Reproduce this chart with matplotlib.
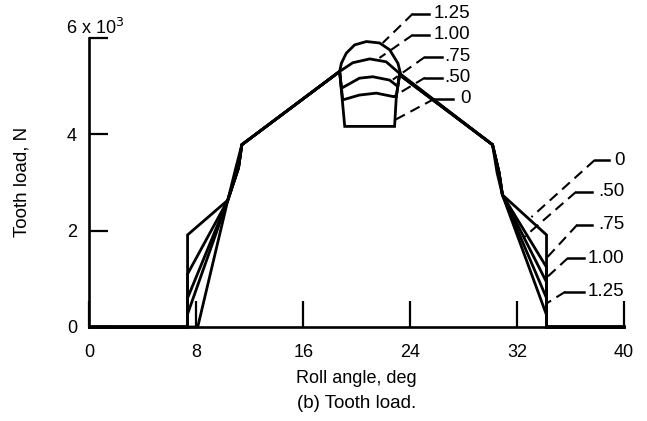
import matplotlib.pyplot as plt

plt.rcParams['font.family'] = ['Liberation Sans', 'DejaVu Sans']

# roll angle, deg / tooth load, 10^3 N
x_0 = [0, 7.34, 7.34, 10.35, 10.95, 11.4, 18.72, 19.1, 22.83, 22.96, 23.2,
       30.16, 30.5, 30.9, 34.2, 34.2, 40]
y_0 = [0, 0, 1.91, 2.63, 3.3, 3.78, 5.30, 4.16, 4.16, 4.78, 5.23,
       3.78, 3.2, 2.74, 1.91, 0, 0]

x_050 = [0, 7.34, 7.34, 10.35, 11.15, 11.4, 18.72, 18.95, 20.2, 21.46, 22.7, 22.96, 23.2,
         30.16, 30.65, 30.9, 34.2, 34.2, 40]
y_050 = [0, 0, 1.1, 2.63, 3.3, 3.78, 5.30, 4.71, 4.81, 4.85, 4.78, 4.78, 5.23,
         3.78, 3.2, 2.74, 1.24, 0, 0]

x_075 = [0, 7.34, 7.34, 10.35, 11.15, 11.4, 18.72, 18.85, 20.2, 21.2, 22.46, 23.06, 23.2,
         30.16, 30.65, 30.9, 34.2, 34.2, 40]
y_075 = [0, 0, 0.6, 2.63, 3.3, 3.78, 5.30, 4.95, 5.16, 5.19, 5.12, 4.99, 5.23,
         3.78, 3.2, 2.74, 0.93, 0, 0]

x_100 = [0, 7.34, 7.34, 10.35, 11.15, 11.4, 18.72, 19.7, 20.97, 22.2, 23.2,
         30.16, 30.65, 30.9, 34.2, 34.2, 40]
y_100 = [0, 0, 0.27, 2.63, 3.3, 3.78, 5.30, 5.48, 5.56, 5.50, 5.26,
         3.78, 3.2, 2.74, 0.6, 0, 0]

x_125 = [0, 8.1, 10.35, 11.15, 11.4, 18.72, 18.85, 19.22, 19.84, 20.72, 21.71, 22.46, 23.08, 23.3,
         30.16, 30.65, 30.9, 34.2, 34.2, 40]
y_125 = [0, 0, 2.63, 3.3, 3.78, 5.30, 5.47, 5.68, 5.85, 5.92, 5.89, 5.75, 5.47, 5.23,
         3.78, 3.2, 2.74, 0.25, 0, 0]

curves = [(x_0, y_0), (x_050, y_050), (x_075, y_075), (x_100, y_100), (x_125, y_125)]
labels = ['0', '.50', '.75', '1.00', '1.25']

xticks = [0, 8, 16, 24, 32, 40]
yticks = [0, 2, 4, 6]

# leader layout (data coords): label point, solid stub, dashed line end
top_lab = [(28.5, 4.73), (28.5, 5.17), (28.5, 5.60), (28.5, 6.06), (28.5, 6.50)]
top_stub = [(25.8, 27.2), (25.1, 26.4), (25.1, 26.4), (24.2, 25.4), (24.2, 25.4)]
top_end = [(22.83, 4.29), (22.7, 4.77), (22.7, 5.13), (21.7, 5.58), (21.94, 5.89)]
right_lab = [(40.05, 3.46), (40.05, 2.80), (40.05, 2.12), (40.05, 1.43), (40.05, 0.73)]
right_stub = [(37.8, 38.9), (36.4, 37.6), (36.5, 37.6), (35.8, 37.0), (35.6, 37.0)]
right_end = [(33.07, 2.28), (32.55, 1.87), (34.27, 1.45), (34.27, 1.04), (34.27, 0.5)]

fig = plt.figure(figsize=(6.47, 4.21), dpi=100)
ax = fig.add_axes([0.1383, 0.2233, 0.8262, 0.6872])

for (xs, ys) in curves:
    ax.plot(xs, ys, color='black', lw=2.0, solid_joinstyle='miter', clip_on=False)

for lab_pos, stub, end in [(top_lab, top_stub, top_end), (right_lab, right_stub, right_end)]:
    for i in range(len(labels)):
        lx, ly = lab_pos[i]
        s0, s1 = stub[i]
        ex, ey = end[i]
        ax.plot([s0, s1], [ly, ly], color='black', lw=1.8, clip_on=False)
        ax.plot([s0, ex], [ly, ey], color='black', lw=1.5, ls=(0, (5, 3)), clip_on=False)
        ax.text(lx, ly, labels[i], ha='right', va='center', fontsize=13.5, clip_on=False)

ax.set_xlim(0, 40)
ax.set_ylim(0, 6)
ax.spines['top'].set_visible(False)
ax.spines['right'].set_visible(False)
ax.spines['left'].set_linewidth(1.9)
ax.spines['bottom'].set_linewidth(1.9)
ax.set_xticks(xticks)
ax.set_yticks(yticks)
ax.set_yticklabels(['0', '2', '4', ''])
ax.tick_params(axis='x', direction='in', length=19, width=1.6, labelsize=13, pad=12)
ax.tick_params(axis='y', direction='in', length=14, width=1.6, labelsize=13, pad=9)
fig.text(66 / 647, 1 - 28 / 421, '6 x 10$^3$', ha='left', va='center', fontsize=13)

ax.set_xlabel('Roll angle, deg', fontsize=13, labelpad=7)
ax.set_ylabel('Tooth load, N', fontsize=13.5, labelpad=26)
fig.text(357 / 647, 1 - 404 / 421, '(b) Tooth load.', ha='center', va='center', fontsize=13.5)

plt.savefig('out.png', dpi=100)
